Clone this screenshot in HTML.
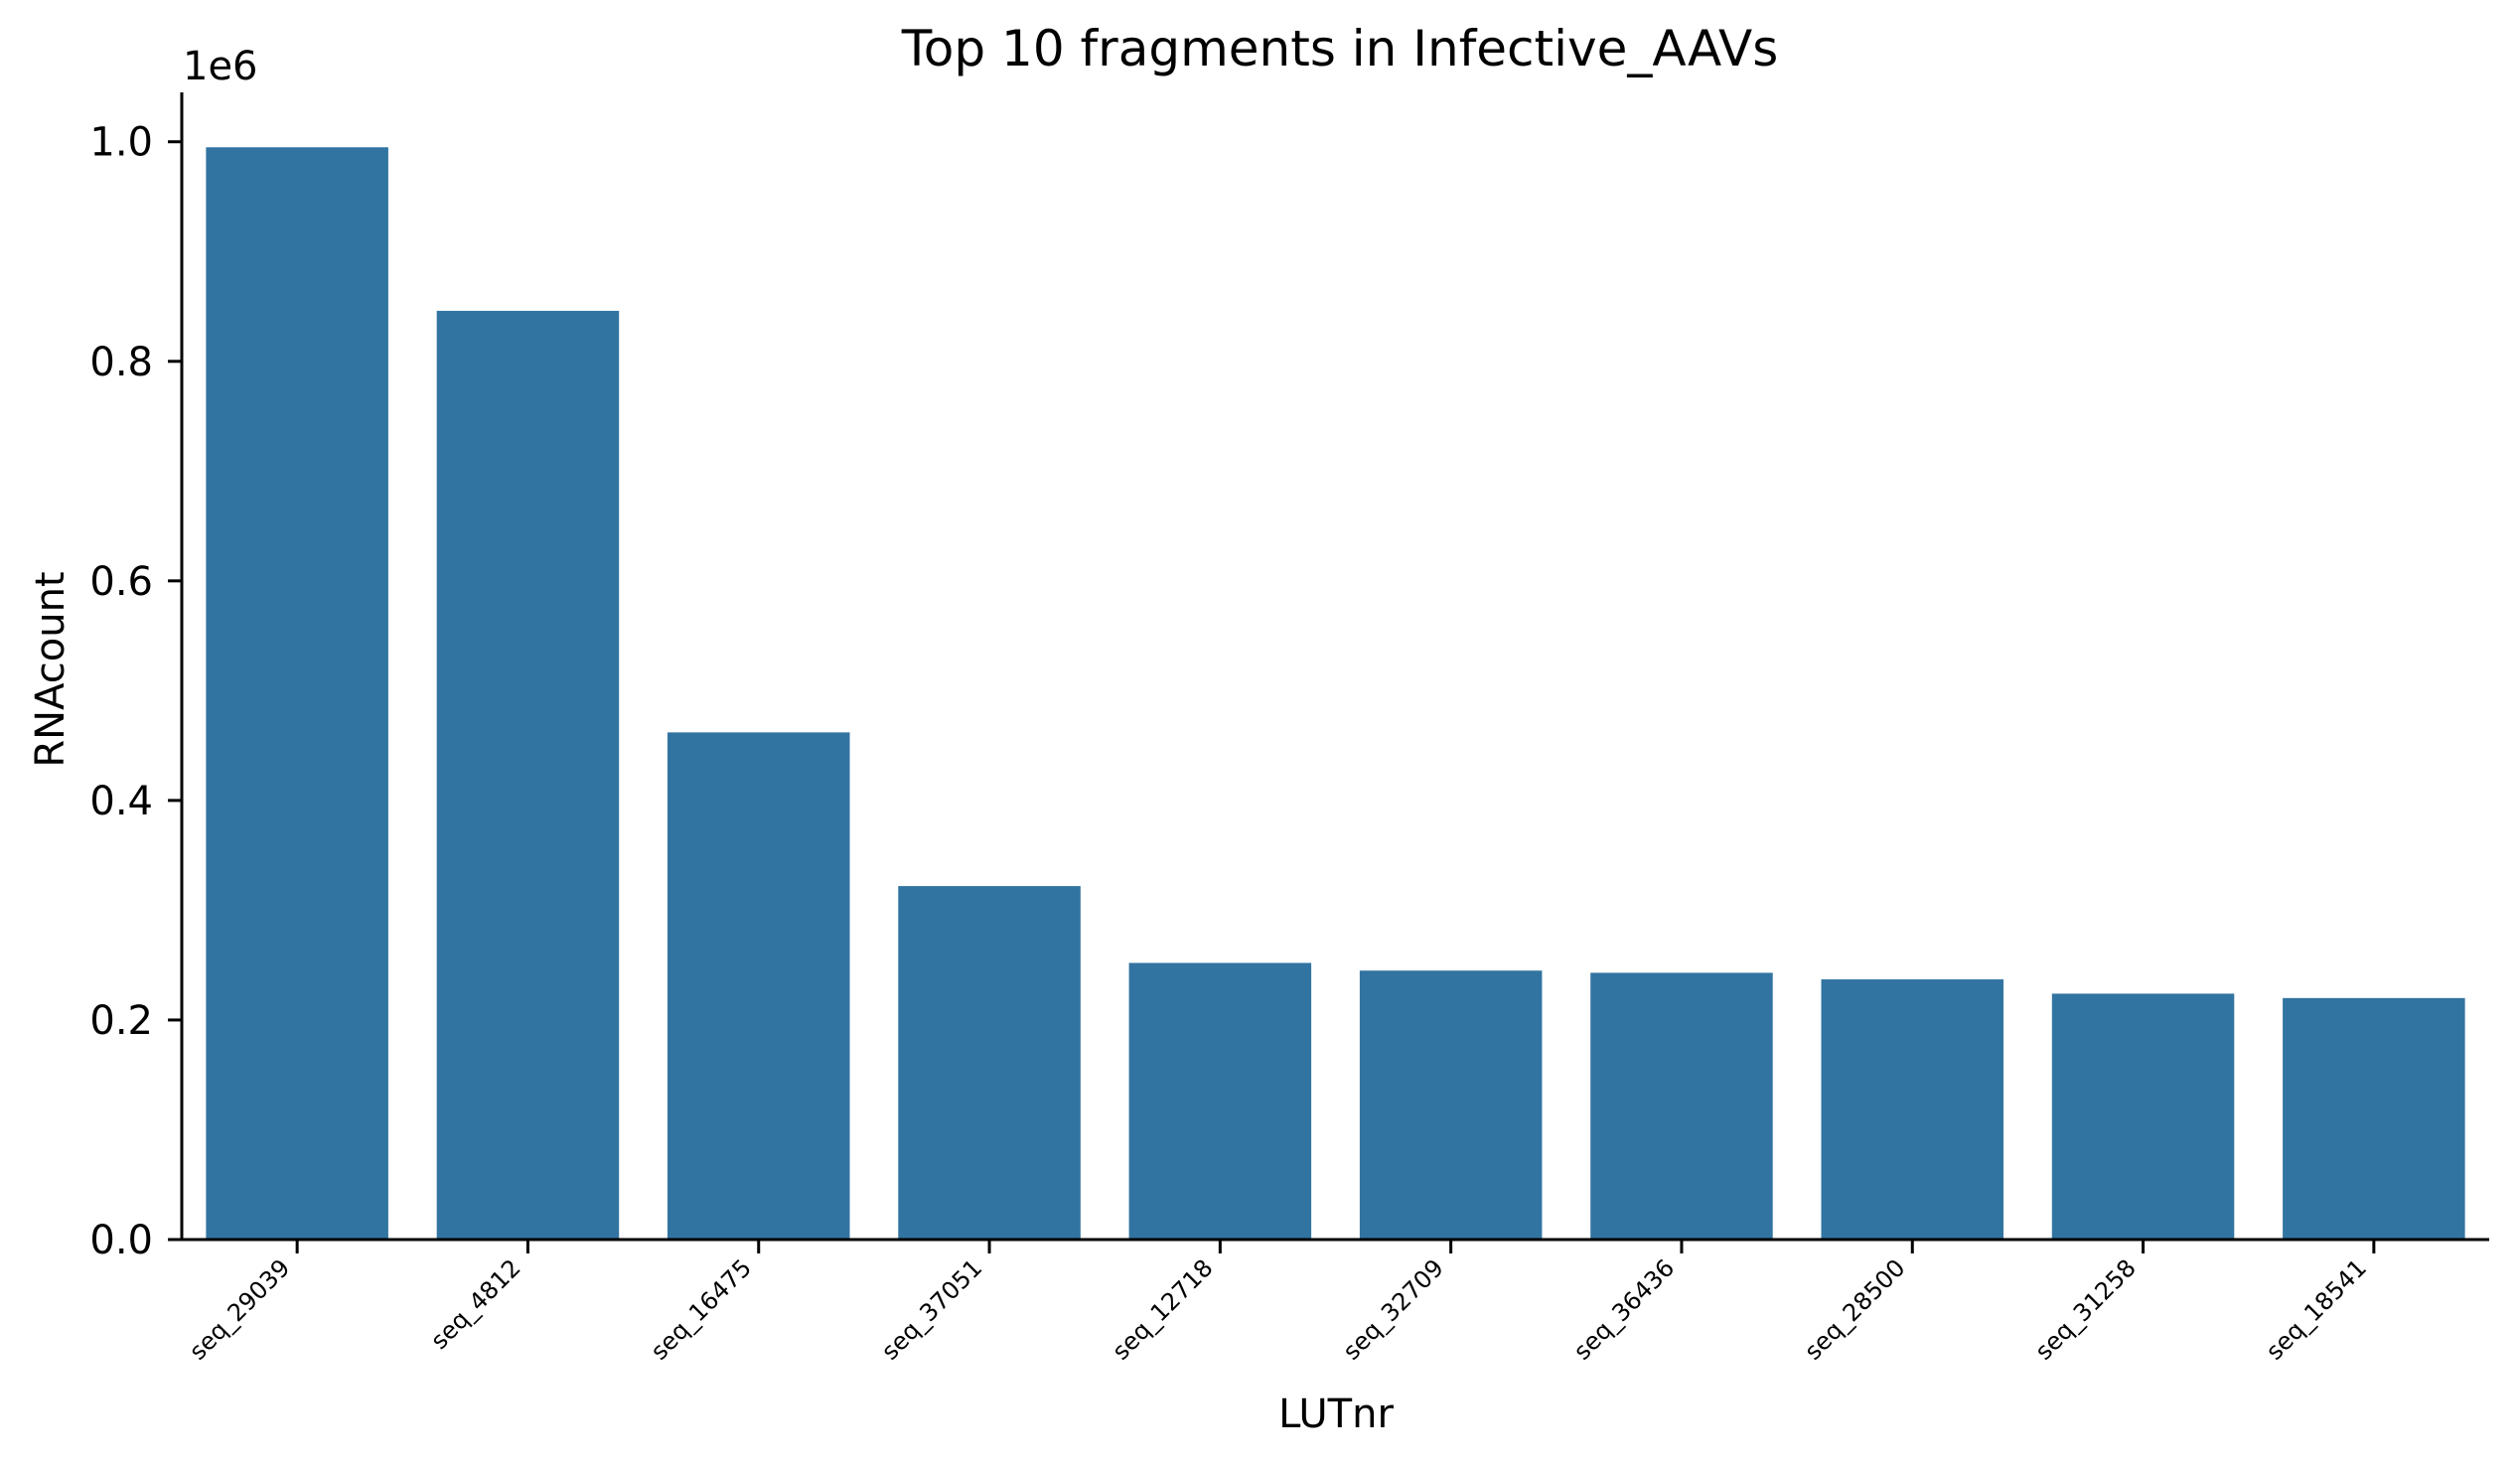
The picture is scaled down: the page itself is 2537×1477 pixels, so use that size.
<!DOCTYPE html>
<html><head><meta charset="utf-8"><style>
html,body{margin:0;padding:0;background:#fff;}
svg{display:block;font-family:"DejaVu Sans","Liberation Sans",sans-serif;}
</style></head><body>
<svg id="chart" width="2537" height="1477" viewBox="0 0 2537 1477" xmlns="http://www.w3.org/2000/svg">
<rect width="2537" height="1477" fill="#fff"/>
<text x="1349" y="66" font-size="50" text-anchor="middle" fill="#000">Top 10 fragments in Infective_AAVs</text>
<text x="184" y="80" font-size="40" fill="#000">1e6</text>
<text transform="translate(64,674) rotate(-90)" font-size="40" text-anchor="middle" fill="#000">RNAcount</text>
<text x="1345" y="1437" font-size="40" text-anchor="middle" fill="#000">LUTnr</text>
<g id="bars"></g>
<g id="axes"></g>
</svg>
<script>
const categories = ["seq_29039","seq_4812","seq_16475","seq_37051","seq_12718","seq_32709","seq_36436","seq_28500","seq_31258","seq_18541"];
const values = [995000, 846000, 462000, 322000, 252000, 245000, 243000, 237000, 224000, 220000];
const yTicks = [0, 200000, 400000, 600000, 800000, 1000000];
const yTickLabels = ["0.0","0.2","0.4","0.6","0.8","1.0"];

const NS = "http://www.w3.org/2000/svg";
const L = 183, R = 2506, B = 1248, T = 93;
const yMax = 1045000;
const n = categories.length;
const band = (R - L) / n;
function xc(i){ return L + band * (i + 0.5); }
function y(v){ return B - (v / yMax) * (B - T); }
function mk(tag, attrs, parent){
  const e = document.createElementNS(NS, tag);
  for (const k in attrs) e.setAttribute(k, attrs[k]);
  parent.appendChild(e);
  return e;
}
const bars = document.getElementById('bars');
const axes = document.getElementById('axes');
const bw = band * 0.79;
values.forEach((v, i) => {
  const r = mk('rect', {x: xc(i) - bw/2, y: y(v), width: bw, height: B - y(v), fill: '#3274a1'}, bars);
  
  
});
const ya = mk('line', {x1: L, x2: L, y1: T, y2: B + 1.5, stroke: '#000', 'stroke-width': 3}, axes);


const xa = mk('line', {x1: L - 1.5, x2: R, y1: B, y2: B, stroke: '#000', 'stroke-width': 3}, axes);


yTicks.forEach((t, i) => {
  const tk = mk('line', {x1: L - 14, x2: L, y1: y(t), y2: y(t), stroke: '#000', 'stroke-width': 3}, axes);
  
  
  const tx = mk('text', {x: L - 29, y: y(t) + 14, 'font-size': 40, 'text-anchor': 'end', fill: '#000'}, axes);
  tx.textContent = yTickLabels[i];
  
  
});
categories.forEach((c, i) => {
  const x = xc(i);
  const tk = mk('line', {x1: x, x2: x, y1: B, y2: B + 14, stroke: '#000', 'stroke-width': 3}, axes);
  
  
  const tx = mk('text', {transform: 'translate(' + (x - 6) + ',' + (B + 30) + ') rotate(-45)', 'font-size': 24, 'text-anchor': 'end', fill: '#000'}, axes);
  tx.textContent = c;
  
  
});
</script>
</body></html>
